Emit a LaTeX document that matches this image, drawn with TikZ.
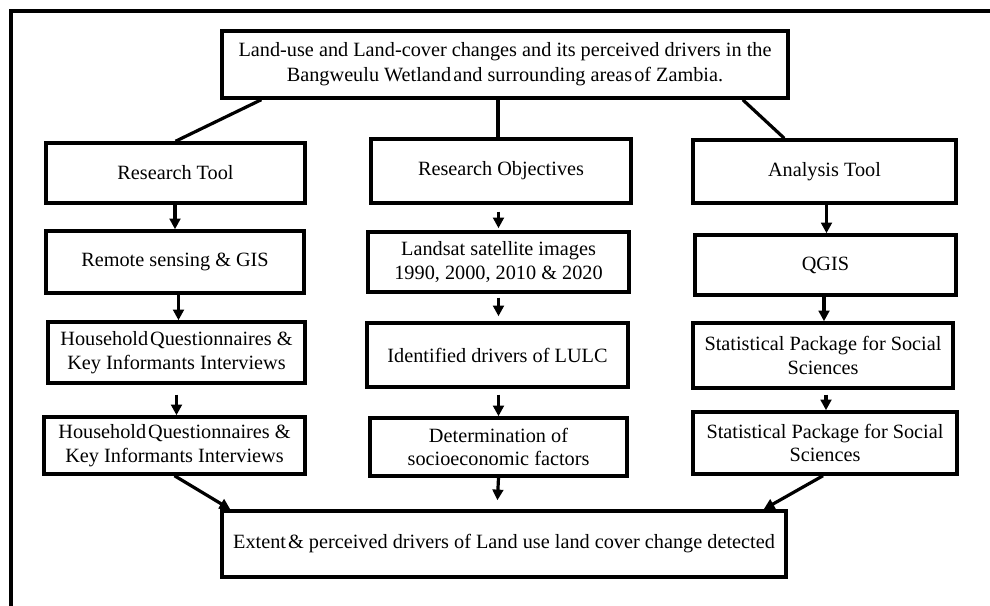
\documentclass[tikz,border=0pt]{standalone}
\usepackage{fontspec}
\setmainfont{Liberation Serif}
\usetikzlibrary{arrows.meta,calc}
\newcommand\pxu{0.75pt}
\begin{document}
\begin{tikzpicture}[x=0.75pt,y=-0.75pt,
  box/.style={draw, line width=2.6pt, inner sep=0pt, align=center, font=\fontsize{15.2}{17.5}\selectfont},
  conn/.style={line width=2.4pt},
  arr/.style={line width=2.4pt, -{Triangle[length=8pt,width=8pt]}}]
\useasboundingbox (0,0) rectangle (990,606);
\fill[white] (0,0) rectangle (990,606);
\draw[line width=2.4pt] (11,606) -- (11,11) -- (990,11);

\node[box, minimum width=566*\pxu, minimum height=67*\pxu, font=\fontsize{15.2}{18.8}\selectfont] (title) at (505,64.5)
  {Land-use and Land-cover changes and its perceived drivers in the\\Bangweulu Wetland\hspace{0.1em}and surrounding areas\hspace{0.1em}of Zambia.};

\node[box, minimum width=259*\pxu, minimum height=60*\pxu] (rt) at (175.5,173) {Research Tool};
\node[box, minimum width=260*\pxu, minimum height=64*\pxu] (ro) at (501,171) {Research Objectives};
\node[box, minimum width=263*\pxu, minimum height=63*\pxu] (at) at (824.5,171.5) {Analysis Tool};

\node[box, minimum width=258*\pxu, minimum height=62*\pxu] (rs) at (175,262) {Remote sensing \& GIS};
\node[box, minimum width=261*\pxu, minimum height=60*\pxu] (ls) at (498.5,262) {Landsat satellite images\\1990, 2000, 2010 \& 2020};
\node[box, minimum width=261*\pxu, minimum height=60*\pxu] (qg) at (825.5,265) {QGIS};

\node[box, minimum width=257*\pxu, minimum height=61*\pxu] (hq1) at (176.5,352.5) {Household\hspace{0.1em}Questionnaires \&\\Key Informants Interviews};
\node[box, minimum width=261*\pxu, minimum height=64*\pxu] (id) at (497.5,355) {Identified drivers of LULC};
\node[box, minimum width=260*\pxu, minimum height=65*\pxu] (sp1) at (823,355.5) {Statistical Package for Social\\Sciences};

\node[box, minimum width=261*\pxu, minimum height=57*\pxu] (hq2) at (174.5,445.5) {Household\hspace{0.1em}Questionnaires \&\\Key Informants Interviews};
\node[box, minimum width=257*\pxu, minimum height=58*\pxu] (dt) at (498.5,447) {Determination of\\socioeconomic factors};
\node[box, minimum width=264*\pxu, minimum height=62*\pxu] (sp2) at (825,443) {Statistical Package for Social\\Sciences};

\node[box, minimum width=564*\pxu, minimum height=66*\pxu] (fin) at (504,544) {Extent\hspace{0.1em}\& perceived drivers of Land use land cover change detected};

% title connectors
\draw[conn] ([xshift=41*\pxu]title.south west) -- (rt.north);
\draw[conn] ([xshift=-3*\pxu]ro.north |- title.south) -- ([xshift=-3*\pxu]ro.north);
\draw[conn] ([xshift=-47*\pxu]title.south east) -- ([xshift=93*\pxu]at.north west);

% left column
\draw[arr] (rs.north |- rt.south) -- (rs.north);
\draw[arr] ([xshift=2*\pxu]hq1.north |- rs.south) -- ([xshift=2*\pxu]hq1.north);
\draw[arr, shorten <=10*\pxu] ([xshift=2*\pxu]hq2.north |- hq1.south) -- ([xshift=2*\pxu]hq2.north);

% middle column
\draw[arr, shorten <=7*\pxu, shorten >=2*\pxu] (ls.north |- ro.south) -- (ls.north);
\draw[arr, shorten <=4*\pxu, shorten >=5*\pxu] ([xshift=1*\pxu]id.north |- ls.south) -- ([xshift=1*\pxu]id.north);
\draw[arr, shorten <=6*\pxu] (dt.north |- id.south) -- (dt.north);

% right column
\draw[arr] ([xshift=1*\pxu]qg.north |- at.south) -- ([xshift=1*\pxu]qg.north);
\draw[arr] ([xshift=1*\pxu]sp1.north |- qg.south) -- ([xshift=1*\pxu]sp1.north);
\draw[arr, shorten <=5*\pxu] ([xshift=1*\pxu]sp2.north |- sp1.south) -- ([xshift=1*\pxu]sp2.north);

% to final
\draw[arr] (hq2.south) -- ([xshift=10*\pxu]fin.north west);
\draw[arr, shorten >=9*\pxu] (dt.south) -- ([xshift=-7*\pxu]fin.north);
\draw[arr] ([xshift=-2*\pxu]sp2.south) -- ([xshift=-24*\pxu]fin.north east);
\end{tikzpicture}
\end{document}
